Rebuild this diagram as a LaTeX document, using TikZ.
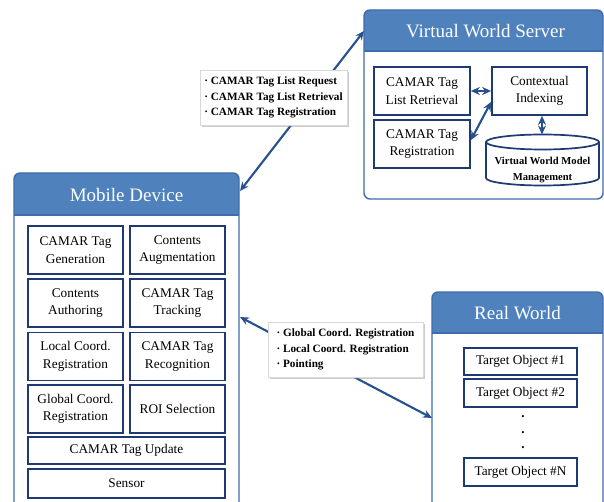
\documentclass[tikz,border=0pt]{standalone}
\usepackage{fontspec}
\setmainfont{Liberation Serif}
\usetikzlibrary{arrows.meta,shadows,calc}
\definecolor{hdr}{HTML}{4F81BD}
\definecolor{navy}{HTML}{1F3A72}
\definecolor{arr}{HTML}{27508F}
\definecolor{outerb}{HTML}{3F6CAA}
\begin{document}
\begin{tikzpicture}[x=1pt,y=-1pt,
  box/.style={draw=navy, line width=1.7pt, fill=white, align=center,
    font=\fontsize{13.3}{17.5}\selectfont, inner sep=1pt},
  titletext/.style={text=white, font=\fontsize{19}{22}\selectfont},
  lbl/.style={draw=black!15, fill=white,
    drop shadow={opacity=0.4, shadow xshift=1.8pt, shadow yshift=-1.8pt},
    align=left, font=\fontsize{11.2}{15.5}\selectfont\bfseries, inner sep=2pt},
  conn/.style={draw=arr, line width=2.1pt,
    {Stealth[length=9pt,width=8pt,inset=3pt]}-{Stealth[length=9pt,width=8pt,inset=3pt]}},
  outerbox/.style={draw=outerb, line width=1.4pt, fill=white, rounded corners=6pt},
  hdrfill/.style={fill=hdr},
  dotstyle/.style={font=\fontsize{13.3}{15}\selectfont\bfseries, inner sep=0pt}
]
\useasboundingbox (0,0) rectangle (604,502);

% ---------- Virtual World Server ----------
\fill[white] (364,10) rectangle (603,199);
\fill[hdrfill, rounded corners=6pt] (364,10) rectangle (603,51);
\fill[hdrfill] (364,35) rectangle (603,51);
\draw[outerb, line width=1.4pt] (364,51) -- (603,51);
\draw[outerbox, fill=none] (364,10) rectangle (603,199);
\node[titletext] (srvtitle) at (485.5,31) {Virtual World Server};

\node[box, minimum width=96pt, minimum height=48pt] (slr) at (422,91) {CAMAR Tag\\List Retrieval};
\node[box, minimum width=96pt, minimum height=48pt] (sreg) at (422,144) {CAMAR Tag\\Registration};
\node[box, minimum width=95pt, minimum height=48pt] (ctx) at (539.5,91) {Contextual\\Indexing};

% cylinder
\draw[navy, line width=1.7pt, fill=white]
  (486,142) -- (486,178) arc[start angle=180, end angle=0, x radius=56.5, y radius=7.5]
  -- (599,142);
\draw[navy, line width=1.7pt, fill=white] (542.5,142) ellipse[x radius=56.5, y radius=7.5];
\node[align=center, font=\fontsize{10.6}{16}\selectfont\bfseries] (vwm) at (542.5,170) {Virtual World Model\\Management};
\coordinate (cyltop) at (542,134.5);

\draw[conn] (slr.east) -- (ctx.west);
\draw[conn] ($(sreg.north east)+(0,21)$) -- ($(ctx.south west)+(0,-14)$);
\draw[conn] (cyltop |- ctx.south) -- (cyltop);

% ---------- Mobile Device ----------
\fill[white] (14,173) rectangle (239,510);
\fill[hdrfill, rounded corners=6pt] (14,173) rectangle (239,215);
\fill[hdrfill] (14,198) rectangle (239,215);
\draw[outerb, line width=1.4pt] (14,215) -- (239,215);
\draw[outerbox, fill=none] (14,173) rectangle (239,515);
\node[titletext] (mobtitle) at (126.5,195) {Mobile Device};

\node[box, minimum width=95pt, minimum height=48pt] (m11) at (75.5,250) {CAMAR Tag\\Generation};
\node[box, minimum width=95pt, minimum height=48pt] (m12) at (177.5,250) {Contents\\Augmentation};
\node[box, minimum width=95pt, minimum height=48pt] (m21) at (75.5,303) {Contents\\Authoring};
\node[box, minimum width=95pt, minimum height=48pt] (m22) at (177.5,303) {CAMAR Tag\\Tracking};
\node[box, minimum width=95pt, minimum height=48pt] (m31) at (75.5,356.5) {Local Coord.\\Registration};
\node[box, minimum width=95pt, minimum height=48pt] (m32) at (177.5,356.5) {CAMAR Tag\\Recognition};
\node[box, minimum width=95pt, minimum height=48pt] (m41) at (75.5,409) {Global Coord.\\Registration};
\node[box, minimum width=95pt, minimum height=48pt] (m42) at (177.5,409) {ROI Selection};
\node[box, minimum width=197pt, minimum height=27pt] (mupd) at (126.5,450.5) {CAMAR Tag Update};
\node[box, minimum width=197pt, minimum height=29pt] (msen) at (126.5,483.5) {Sensor};

% ---------- Real World ----------
\fill[white] (432,292) rectangle (603,515);
\fill[hdrfill, rounded corners=6pt] (432,292) rectangle (603,333);
\fill[hdrfill] (432,315) rectangle (603,333);
\draw[outerb, line width=1.4pt] (432,333) -- (603,333);
\draw[outerbox, fill=none] (432,292) rectangle (603,515);
\node[titletext] (rwtitle) at (517.5,313) {Real World};

\node[box, minimum width=113pt, minimum height=27pt] (t1) at (520.5,361.5) {Target Object \#1};
\node[box, minimum width=113pt, minimum height=28pt] (t2) at (520.5,393) {Target Object \#2};
\node[dotstyle] (d1) at (523,417) {.};
\node[dotstyle] (d2) at (523,432.5) {.};
\node[dotstyle] (d3) at (523,448) {.};
\node[box, minimum width=113pt, minimum height=28pt] (tn) at (520.5,472) {Target Object \#N};

% ---------- connectors with labels ----------
\coordinate (mobA) at (240,191);
\coordinate (srvA) at (364,31);
\draw[conn] (mobA) -- (srvA);
\coordinate (mobB) at (240,317);
\coordinate (rwB) at (432,418);
\draw[conn] (mobB) -- (rwB);

\node[lbl, minimum width=147pt, minimum height=55pt] (lab1) at (273.5,97.5)
  {· CAMAR Tag List Request\\· CAMAR Tag List Retrieval\\· CAMAR Tag Registration};
\node[lbl, minimum width=155pt, minimum height=55pt] (lab2) at (345.5,349.5)
  {· Global Coord. Registration\\· Local Coord. Registration\\· Pointing};
\end{tikzpicture}
\end{document}
